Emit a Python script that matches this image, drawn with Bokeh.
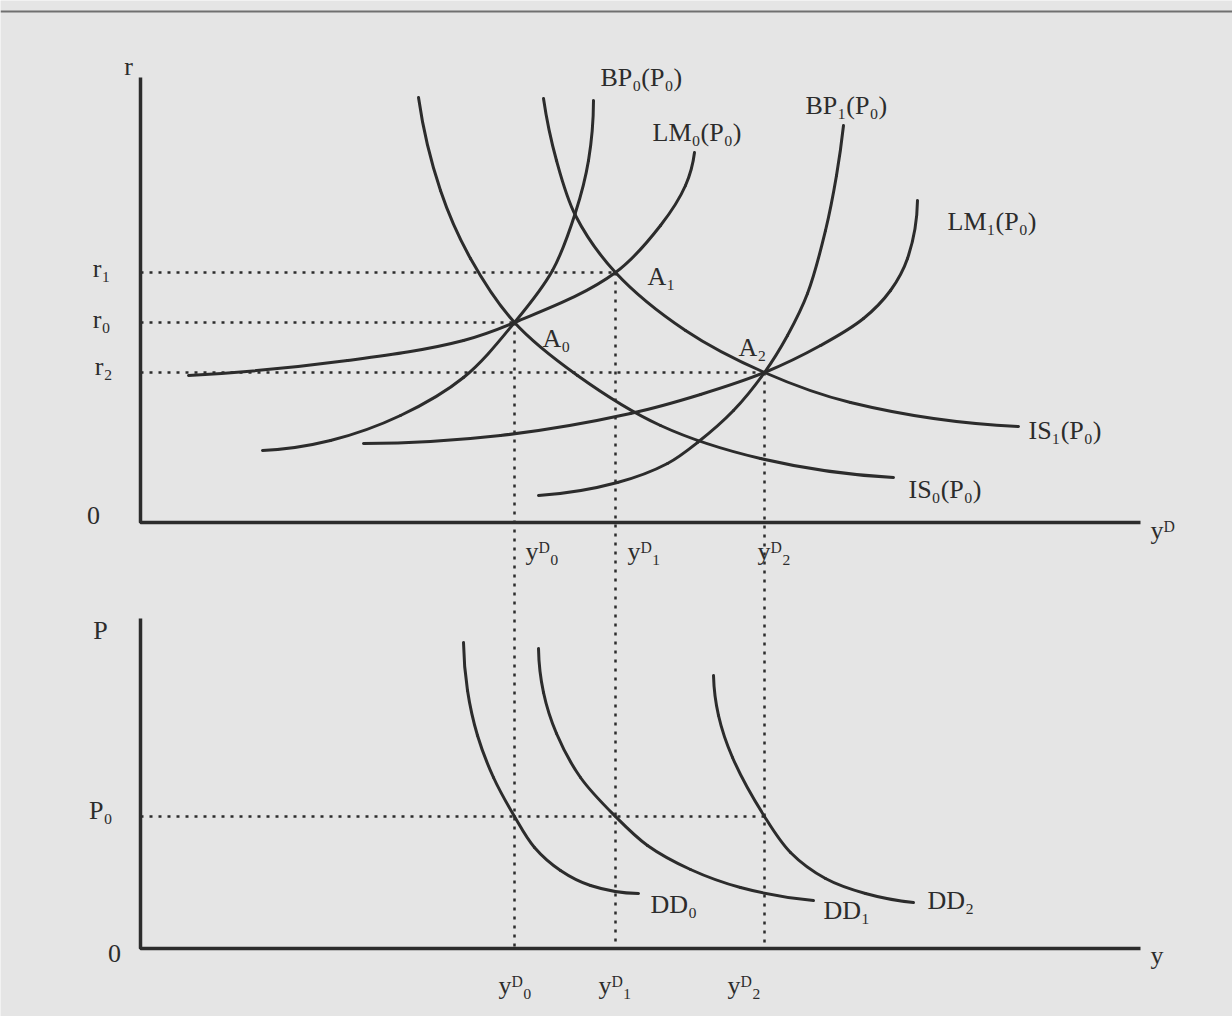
from math import hypot
from bokeh.plotting import figure
from bokeh.models import Range1d
from bokeh.embed import file_html
from bokeh.resources import INLINE
from bokeh.core.properties import value

# ---------------- data (conceptual units) ----------------
# equilibrium output levels yD0, yD1, yD2 and interest rates r0, r1, r2
Y_LEVELS = [3.74, 4.75, 6.24]
R_LEVELS = [2.0, 2.5, 1.5]
P0 = 1.32
R_TICK_LABELS = ["r\u2080", "r\u2081", "r\u2082"]
Y_TICK_LABELS = ["y\u1d30\u2080", "y\u1d30\u2081", "y\u1d30\u2082"]
POINT_LABELS = ["A\u2080", "A\u2081", "A\u2082"]

# upper panel curves: output (yD) and interest rate (r)
IS0_y = [2.78, 3.00, 3.30, 3.74, 4.37, 5.20, 6.20, 7.53]
IS0_r = [4.25, 3.32, 2.64, 2.00, 1.47, 0.97, 0.64, 0.45]
IS1_y = [4.03, 4.16, 4.35, 4.75, 5.45, 6.24, 7.10, 8.78]
IS1_r = [4.24, 3.62, 3.07, 2.50, 1.92, 1.50, 1.20, 0.96]
BP0_y = [1.22, 1.90, 2.60, 3.23, 3.74, 4.12, 4.35, 4.48, 4.53]
BP0_r = [0.72, 0.82, 1.07, 1.45, 2.00, 2.52, 3.10, 3.62, 4.22]
LM0_y = [0.48, 2.07, 3.23, 3.74, 4.75, 5.20, 5.45, 5.54]
LM0_r = [1.47, 1.62, 1.82, 2.00, 2.50, 2.97, 3.37, 3.70]
LM1_y = [2.23, 3.60, 4.90, 5.60, 6.24, 6.80, 7.23, 7.50, 7.67, 7.77]
LM1_r = [0.79, 0.87, 1.09, 1.28, 1.50, 1.77, 2.04, 2.32, 2.64, 3.22]
BP1_y = [3.98, 4.77, 5.27, 5.57, 5.93, 6.24, 6.47, 6.67, 6.85, 6.96, 7.03]
BP1_r = [0.27, 0.40, 0.59, 0.80, 1.12, 1.50, 1.87, 2.29, 2.92, 3.47, 3.97]

# lower panel curves: output (y) and price level (P)
DD0_y = [3.23, 3.27, 3.37, 3.53, 3.74, 3.94, 4.20, 4.50, 4.98]
DD0_P = [3.06, 2.58, 2.13, 1.71, 1.32, 1.01, 0.78, 0.63, 0.55]
DD1_y = [3.98, 4.03, 4.16, 4.40, 4.75, 5.07, 5.50, 6.00, 6.73]
DD1_P = [3.00, 2.56, 2.15, 1.71, 1.32, 1.03, 0.79, 0.61, 0.48]
DD2_y = [5.73, 5.78, 5.92, 6.24, 6.50, 6.85, 7.25, 7.73]
DD2_P = [2.73, 2.33, 1.91, 1.32, 0.96, 0.70, 0.55, 0.46]

UPPER_CURVES = [
    ("IS\u2080(P\u2080)", IS0_y, IS0_r, 7.68, 0.33),
    ("IS\u2081(P\u2080)", IS1_y, IS1_r, 8.88, 0.92),
    ("BP\u2080(P\u2080)", BP0_y, BP0_r, 4.60, 4.45),
    ("LM\u2080(P\u2080)", LM0_y, LM0_r, 5.12, 3.90),
    ("LM\u2081(P\u2080)", LM1_y, LM1_r, 8.07, 3.01),
    ("BP\u2081(P\u2080)", BP1_y, BP1_r, 6.65, 4.17),
]
LOWER_CURVES = [
    ("DD\u2080", DD0_y, DD0_P, 5.10, 0.44),
    ("DD\u2081", DD1_y, DD1_P, 6.83, 0.38),
    ("DD\u2082", DD2_y, DD2_P, 7.87, 0.48),
]

# ---------------- layout / style ----------------
R_BASE = 4.26          # vertical position of the upper panel's origin
X_END = 10.0           # length of the horizontal axes
R_TOP = 4.45           # height of upper vertical axis
P_TOP = 3.30           # height of lower vertical axis
BG = "#e5e5e5"
INK = "#2c2c2c"
FONT = value("Liberation Serif")
FS = "26px"

p = figure(width=1232, height=1016,
           x_range=Range1d(-1.40, 10.92), y_range=Range1d(-0.68, 9.48),
           output_backend="svg", toolbar_location=None,
           x_axis_type=None, y_axis_type=None, min_border=0,
           background_fill_color=BG, border_fill_color=BG)
p.grid.visible = False
p.outline_line_color = None

# page rule at the top
p.line([-1.40, 10.92], [9.37, 9.37], line_color="#707070", line_width=2)


def bezier_parts(xs, ys):
    """Smooth cubic pieces through the read points (tangent = bisector of chords)."""
    n = len(xs)
    d = [hypot(xs[i + 1] - xs[i], ys[i + 1] - ys[i]) for i in range(n - 1)]
    u = [((xs[i + 1] - xs[i]) / d[i], (ys[i + 1] - ys[i]) / d[i]) for i in range(n - 1)]

    def unit(tx, ty):
        L = hypot(tx, ty)
        return (tx / L, ty / L)

    T = [None] * n
    for i in range(1, n - 1):
        T[i] = unit(u[i - 1][0] + u[i][0], u[i - 1][1] + u[i][1])
    T[0] = unit(2 * u[0][0] - T[1][0], 2 * u[0][1] - T[1][1])
    T[-1] = unit(2 * u[-1][0] - T[-2][0], 2 * u[-1][1] - T[-2][1])
    out = {k: [] for k in ("x0", "y0", "x1", "y1", "cx0", "cy0", "cx1", "cy1")}
    for i in range(n - 1):
        out["x0"].append(xs[i]); out["y0"].append(ys[i])
        out["x1"].append(xs[i + 1]); out["y1"].append(ys[i + 1])
        out["cx0"].append(xs[i] + T[i][0] * d[i] / 3)
        out["cy0"].append(ys[i] + T[i][1] * d[i] / 3)
        out["cx1"].append(xs[i + 1] - T[i + 1][0] * d[i] / 3)
        out["cy1"].append(ys[i + 1] - T[i + 1][1] * d[i] / 3)
    return out


def put_text(xs, ys, texts, align="left", baseline="middle"):
    p.text(x=xs, y=ys, text=texts, text_font=FONT, text_font_size=FS,
           text_color=INK, text_align=align, text_baseline=baseline)


# dotted guide lines
dots = dict(line_color=INK, line_width=2.5, line_dash="3 6")
p.segment(x0=[0] * 3, y0=[R_BASE + r for r in R_LEVELS],
          x1=Y_LEVELS, y1=[R_BASE + r for r in R_LEVELS], **dots)
p.segment(x0=Y_LEVELS, y0=[R_BASE + r for r in R_LEVELS],
          x1=Y_LEVELS, y1=[0] * 3, **dots)
p.segment(x0=[0], y0=[P0], x1=[Y_LEVELS[2]], y1=[P0], **dots)

# axes
ax = dict(line_color=INK, line_width=3.5)
p.line([0, 0, X_END], [R_BASE + R_TOP, R_BASE, R_BASE], **ax)
p.line([0, 0, X_END], [P_TOP, 0, 0], **ax)

# curves
for name, xs, ys, lx, ly in UPPER_CURVES:
    b = bezier_parts(xs, [R_BASE + v for v in ys])
    p.bezier(**b, line_color=INK, line_width=3, line_cap="round")
for name, xs, ys, lx, ly in LOWER_CURVES:
    b = bezier_parts(xs, ys)
    p.bezier(**b, line_color=INK, line_width=3, line_cap="round")

# curve labels
put_text([c[3] for c in UPPER_CURVES], [R_BASE + c[4] for c in UPPER_CURVES],
         [c[0] for c in UPPER_CURVES])
put_text([c[3] for c in LOWER_CURVES], [c[4] for c in LOWER_CURVES],
         [c[0] for c in LOWER_CURVES])

# equilibrium point labels
put_text([4.02, 5.07, 5.98], [R_BASE + 1.84, R_BASE + 2.46, R_BASE + 1.75], POINT_LABELS)

# upper axis labels
put_text([-0.12], [R_BASE + 4.56], ["r"], align="center")
put_text([-0.47], [R_BASE + 0.07], ["0"], align="center")
put_text([-0.30, -0.30, -0.28], [R_BASE + 2.03, R_BASE + 2.54, R_BASE + 1.56],
         R_TICK_LABELS, align="right")
put_text([3.85, 4.87, 6.17], [R_BASE - 0.29] * 3, Y_TICK_LABELS)
put_text([10.10], [R_BASE - 0.08], ["y\u1d30"])

# lower axis labels
put_text([-0.40], [3.18], ["P"], align="center")
put_text([-0.26], [-0.05], ["0"], align="center")
put_text([-0.28], [P0 + 0.06], ["P\u2080"], align="right")
put_text([3.58, 4.58, 5.87], [-0.37] * 3, Y_TICK_LABELS)
put_text([10.10], [-0.07], ["y"])

open("out.html", "w").write(file_html(p, INLINE))
